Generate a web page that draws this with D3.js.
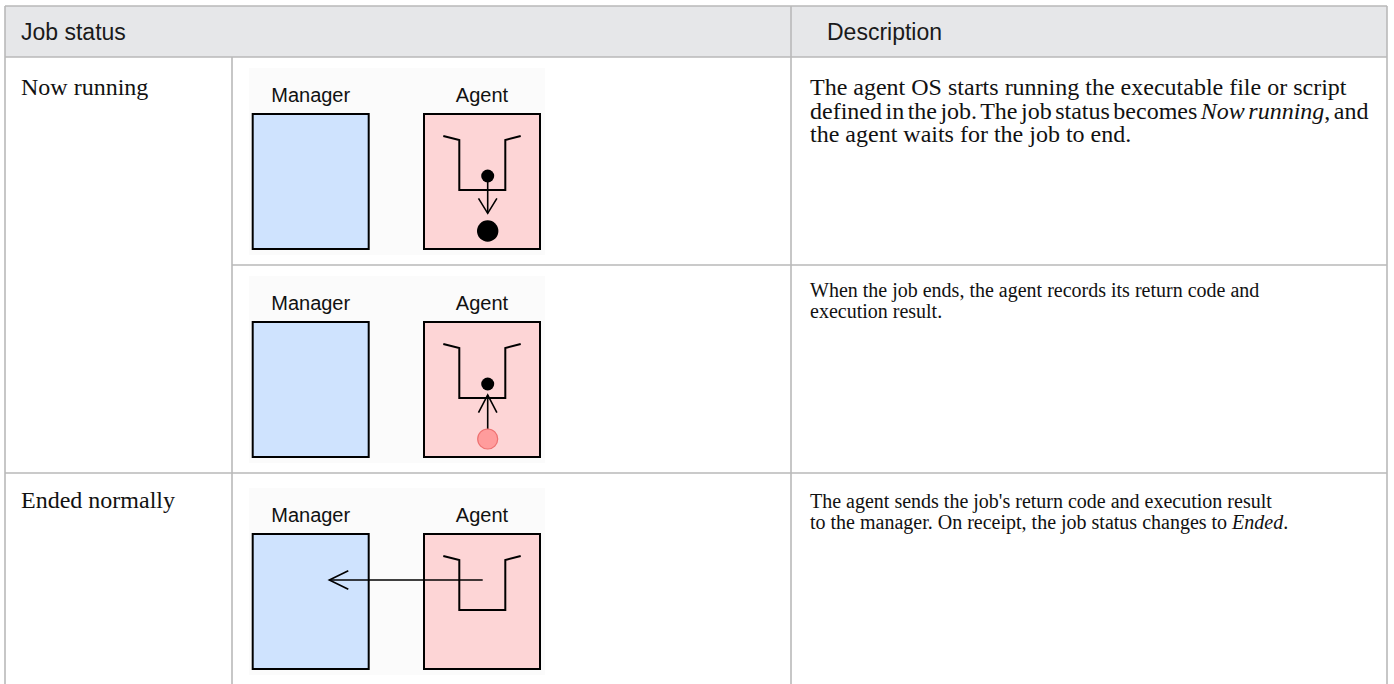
<!DOCTYPE html>
<html><head><meta charset="utf-8">
<script src="https://cdn.jsdelivr.net/npm/d3@7"></script>
<style>html,body{margin:0;padding:0;background:#fff;}svg{display:block;}</style>
</head><body>
<svg id="c" width="1394" height="684"></svg>
<script>
// ---- data ----
const headers = ["Job status", "Description"];
const statuses = ["Now running", "", "Ended normally"];
const diagramKinds = ["down", "up", "send"];
const nodeLabels = ["Manager", "Agent"];
const descriptions = [
  ["The agent OS starts running the executable file or script",
   "defined in the job. The job status becomes *Now running*, and",
   "the agent waits for the job to end."],
  ["When the job ends, the agent records its return code and",
   "execution result."],
  ["The agent sends the job's return code and execution result",
   "to the manager. On receipt, the job status changes to *Ended*."]
];

// ---- layout ----
const W = 1394, H = 684;
const svg = d3.select("#c");
const colX = [5, 232, 791, 1387];
const tableTop = 6, headBottom = 57;
const rowTops = [57, 265, 473];
const statusBase = [95, 0, 508];
const descBase = [95, 296.5, 507.5];
const descSize = [24, 20, 20];
const descLineH = [23.5, 21.3, 21.3];
const wordSp = [[0, -2.5, 0], [0, 0], [0, 0]];
const boxTops = [114, 322, 534];
const border = "#b9b9b9";
const serif = "'Liberation Serif','Times New Roman',serif";
const sans = "'Liberation Sans',Arial,sans-serif";

// header
svg.append("rect").attr("x", colX[0]).attr("y", tableTop)
  .attr("width", colX[3] - colX[0]).attr("height", headBottom - tableTop)
  .attr("fill", "#e6e7e9");
svg.selectAll("text.hdr").data(headers).join("text").attr("class", "hdr")
  .attr("x", (d, i) => i === 0 ? 21 : 827).attr("y", 39.5)
  .attr("font-family", sans).attr("font-size", 23).attr("fill", "#1a1a1a")
  .text(d => d);

// grid lines
const g = svg.append("g").attr("stroke", border).attr("stroke-width", 1.6).attr("fill", "none");
g.append("line").attr("x1", colX[0]).attr("x2", colX[3]).attr("y1", tableTop).attr("y2", tableTop);
g.append("line").attr("x1", colX[0]).attr("x2", colX[3]).attr("y1", headBottom).attr("y2", headBottom);
g.append("line").attr("x1", colX[1]).attr("x2", colX[3]).attr("y1", rowTops[1]).attr("y2", rowTops[1]);
g.append("line").attr("x1", colX[0]).attr("x2", colX[3]).attr("y1", rowTops[2]).attr("y2", rowTops[2]);
colX.forEach((x, i) => {
  g.append("line").attr("x1", x).attr("x2", x)
   .attr("y1", (i === 1) ? headBottom : tableTop).attr("y2", H);
});

// status labels
svg.selectAll("text.st").data(statuses).join("text").attr("class", "st")
  .attr("x", 21).attr("y", (d, i) => statusBase[i])
  .attr("font-family", serif).attr("font-size", 24).attr("fill", "#111")
  .text(d => d);

// descriptions
descriptions.forEach((lines, r) => {
  lines.forEach((ln, k) => {
    const t = svg.append("text").attr("x", 810).attr("y", descBase[r] + k * descLineH[r])
      .attr("font-family", serif).attr("font-size", descSize[r]).attr("fill", "#111")
      .attr("word-spacing", wordSp[r][k]).style("white-space", "pre");
    ln.split(/(\*[^*]+\*)/).filter(s => s.length).forEach(seg => {
      const it = seg.startsWith("*");
      t.append("tspan").attr("font-style", it ? "italic" : "normal")
        .text(it ? seg.slice(1, -1) : seg);
    });
  });
});

// ---- diagrams ----
const boxX = d3.scaleOrdinal().domain(nodeLabels).range([252.7, 424]);
const boxW = 116, boxH = 135;
const fills = {Manager: "#cfe3fe", Agent: "#fdd5d6"};

function arrowHead(sel, tx, ty, dir, len, half) {
  let pts;
  if (dir === "down") pts = [[tx - half, ty - len], [tx, ty], [tx + half, ty - len]];
  else if (dir === "up") pts = [[tx - half, ty + len], [tx, ty], [tx + half, ty + len]];
  else pts = [[tx + len, ty - half], [tx, ty], [tx + len, ty + half]];
  sel.append("path").attr("d", d3.line()(pts)).attr("fill", "none")
    .attr("stroke", "#000").attr("stroke-width", 1.6);
}

diagramKinds.forEach((kind, r) => {
  const top = boxTops[r];
  const dg = svg.append("g");
  dg.append("rect").attr("x", 249).attr("y", top - 46).attr("width", 296).attr("height", boxH + 52)
    .attr("fill", "#fbfbfb");
  nodeLabels.forEach(n => {
    dg.append("text").attr("x", boxX(n) + boxW / 2).attr("y", top - 12)
      .attr("text-anchor", "middle").attr("font-family", sans).attr("font-size", 20)
      .attr("fill", "#111").text(n);
    dg.append("rect").attr("x", boxX(n)).attr("y", top).attr("width", boxW).attr("height", boxH)
      .attr("fill", fills[n]).attr("stroke", "#000").attr("stroke-width", 2);
  });
  const ax = boxX("Agent");
  const fun = [[ax + 19.3, top + 22], [ax + 35.3, top + 26], [ax + 35.3, top + 76],
               [ax + 81.3, top + 76], [ax + 81.3, top + 26], [ax + 96.7, top + 22]];
  dg.append("path").attr("d", d3.line()(fun)).attr("fill", "none")
    .attr("stroke", "#000").attr("stroke-width", 2);
  const cx = ax + 63.7;
  if (kind === "down") {
    dg.append("line").attr("x1", cx).attr("x2", cx).attr("y1", top + 62).attr("y2", top + 99.3)
      .attr("stroke", "#000").attr("stroke-width", 1.6);
    arrowHead(dg, cx, top + 99.3, "down", 15, 9.2);
    dg.append("circle").attr("cx", cx).attr("cy", top + 62).attr("r", 6.5).attr("fill", "#000");
    dg.append("circle").attr("cx", cx).attr("cy", top + 117).attr("r", 10.7).attr("fill", "#000");
  } else if (kind === "up") {
    dg.append("line").attr("x1", cx).attr("x2", cx).attr("y1", top + 73).attr("y2", top + 108)
      .attr("stroke", "#000").attr("stroke-width", 1.6);
    arrowHead(dg, cx, top + 73, "up", 17.7, 9.2);
    dg.append("circle").attr("cx", cx).attr("cy", top + 62).attr("r", 6.5).attr("fill", "#000");
    dg.append("circle").attr("cx", cx).attr("cy", top + 117).attr("r", 10)
      .attr("fill", "#ff9c9c").attr("stroke", "#ee7070").attr("stroke-width", 1.2);
  } else {
    const tx = boxX("Manager") + 76.6;
    dg.append("line").attr("x1", ax + 58.7).attr("x2", tx).attr("y1", top + 46).attr("y2", top + 46)
      .attr("stroke", "#000").attr("stroke-width", 1.6);
    arrowHead(dg, tx, top + 46, "left", 19, 9.3);
  }
});
</script>
</body></html>
